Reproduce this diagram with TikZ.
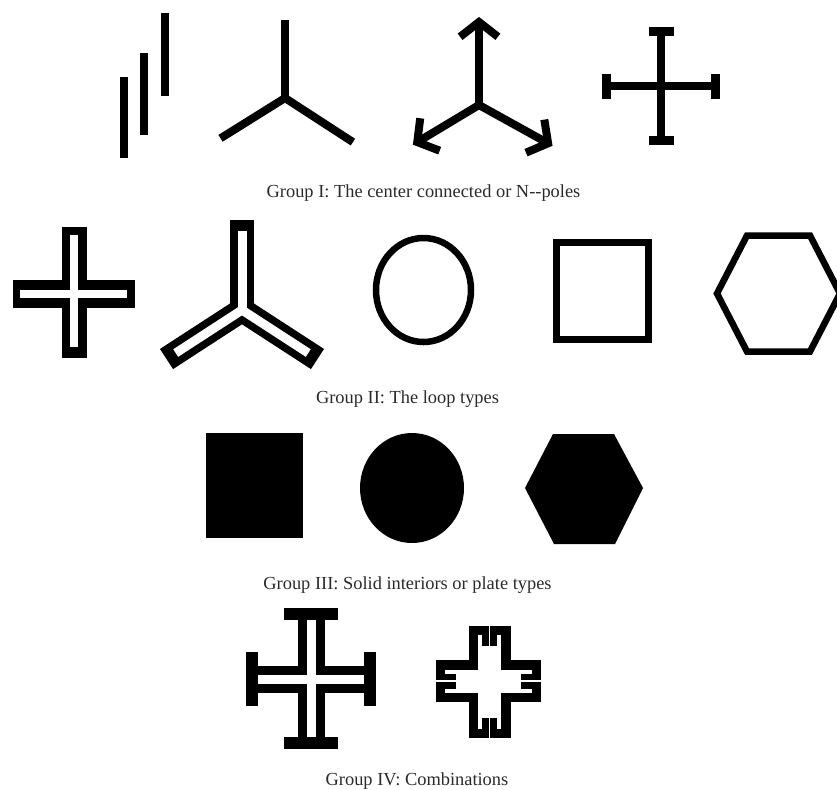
\documentclass[tikz,border=0pt]{standalone}
\usepackage{fontspec}
\setmainfont{Liberation Serif}
\usepackage{xcolor}
\usepackage{tikz}
\usetikzlibrary{calc}
\definecolor{ink}{HTML}{000000}
\definecolor{captionink}{HTML}{2A2A2A}

\begin{document}
\begin{tikzpicture}[x=0.5pt,y=-0.5pt,
  every node/.style={font=\fontsize{9.2}{11}\selectfont,color=captionink,anchor=base},
  pole/.style={draw=ink,line width=4pt},
  loopline/.style={draw=ink,line width=3.25pt,line join=miter}]
\useasboundingbox (0,0) rectangle (837,789);

% Group I
\foreach \x/\ya/\yb in {120/77/158, 140/53/135, 161/13/96}
  \fill[ink] (\x,\ya) rectangle (\x+8,\yb);

\coordinate (fork) at (285,98);
\foreach \a/\l in {-90/78, 148/76, 33/81}
  \draw[pole] (fork) -- ++(\a:\l);

\coordinate (arrowfork) at (479,105);
\foreach \a/\l in {-90/83, 149/72, 29/79}{
  \draw[pole] (arrowfork) -- ++(\a:\l) coordinate (tip);
  \draw[pole,line join=miter] ($(tip)+(\a+128:24)$) -- (tip) -- ($(tip)+(\a+232:24)$);
}

\coordinate (tcross) at (661,86);
\foreach \r in {0,90,180,270}{
  \begin{scope}[shift={(tcross)},rotate=\r]
    \fill[ink] (0,-4) rectangle (59,4);
    \fill[ink] (50,-12.5) rectangle (59,12.5);
  \end{scope}
}

\node (grpone) at (423.5,197) {Group I: The center connected or N-{}-poles};

% Group II
\fill[ink] (62,227) rectangle (87,358);
\fill[ink] (13,280) rectangle (135,308);
\fill[white] (70,235) rectangle (78,347);
\fill[white] (20,290) rectangle (127,298);

\coordinate (hollowfork) at (242,310);
\foreach \a in {-90,33,147}
  \draw[ink,line width=12pt] (hollowfork) -- ++(\a:90);
\foreach \a in {-90,33,147}
  \draw[white,line width=4.5pt] (hollowfork) -- ++(\a:79);

\draw[loopline] (423.5,290) ellipse [x radius=47.5, y radius=52];
\draw[loopline] (556.5,242.5) rectangle (648.5,339.5);
\draw[loopline] (717,293.5) -- (747,235.5) -- (810,235.5) -- (840,293.5)
  -- (810,351.5) -- (747,351.5) -- cycle;

\node (grptwo) at (407.5,403) {Group II: The loop types};

% Group III
\fill[ink] (206,433) rectangle (303,538);
\fill[ink] (412,488) ellipse [x radius=52, y radius=55];
\fill[ink] (525,488) -- (553,434) -- (614,434) -- (643,488) -- (615,544) -- (554,544) -- cycle;

\node (grpthree) at (407.5,589) {Group III: Solid interiors or plate types};

% Group IV
\coordinate (capcross) at (311,679);
\foreach \r/\l in {0/65, 90/71, 180/65, 270/70}{
  \begin{scope}[shift={(capcross)},rotate=\r]
    \fill[ink] (0,-13.5) rectangle (\l-12,13.5);
    \fill[ink] (\l-12,-27) rectangle (\l,27);
  \end{scope}
}
\foreach \r/\l in {0/65, 90/71, 180/65, 270/70}
  \fill[white,shift={(capcross)},rotate=\r] (0,-4.5) rectangle (\l-12,4.5);

\coordinate (meander) at (489.5,681);
\foreach \r/\l in {0/51, 90/55, 180/53.5, 270/57}
  \fill[ink,shift={(meander)},rotate=\r] (0,-21) rectangle (\l,21);
\foreach \r/\l in {0/51, 90/55, 180/53.5, 270/57}{
  \begin{scope}[shift={(meander)},rotate=\r]
    \fill[white] (0,-11.5) rectangle (\l-20,11.5);
    \fill[white] (\l-20,7.5) rectangle (\l-9,11.5);
    \fill[white] (\l-20,-11.5) rectangle (\l-9,-7.5);
    \fill[white] (\l-20,-0.75) rectangle (\l,0.75);
  \end{scope}
}

\node (grpfour) at (417,785) {Group IV: Combinations};
\end{tikzpicture}
\end{document}
